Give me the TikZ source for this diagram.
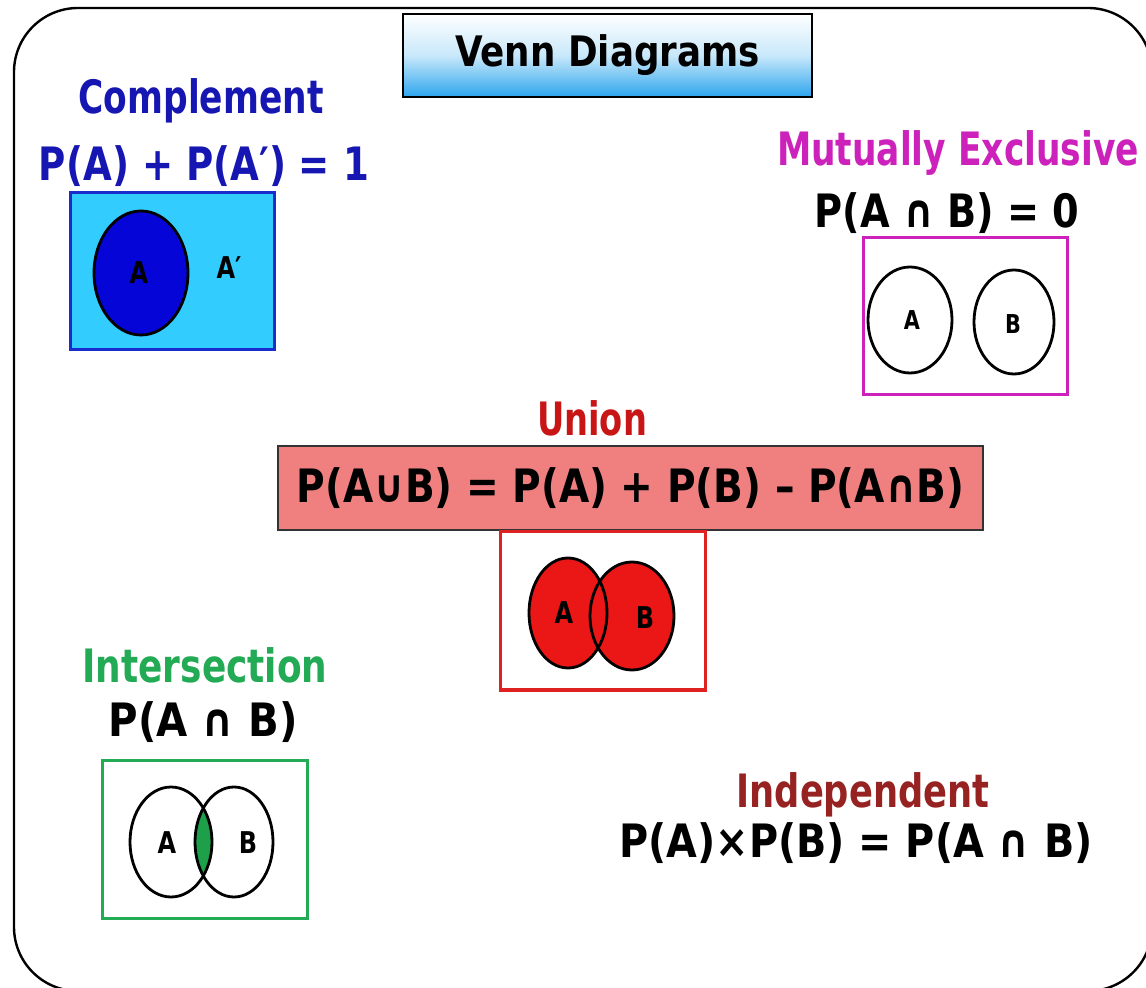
\documentclass[tikz,border=0pt]{standalone}
\usepackage{fontspec}
\setmainfont{DejaVu Sans}
\newfontfamily\condfont[FakeStretch=0.8]{DejaVu Sans}
\definecolor{cblue}{RGB}{22,22,178}
\definecolor{cbox}{RGB}{51,204,255}
\definecolor{cboxb}{RGB}{25,45,205}
\definecolor{cfill}{RGB}{5,5,215}
\definecolor{mag}{RGB}{204,34,187}
\definecolor{ured}{RGB}{200,22,22}
\definecolor{usal}{RGB}{240,128,128}
\definecolor{ufill}{RGB}{235,22,22}
\definecolor{ubord}{RGB}{222,34,34}
\definecolor{igreen}{RGB}{34,170,85}
\definecolor{ifill}{RGB}{30,160,75}
\definecolor{indep}{RGB}{150,34,34}
\definecolor{tblue}{RGB}{45,165,238}
\definecolor{tmid}{RGB}{200,232,250}
\newcommand{\fw}[2]{\resizebox{#1}{\height}{#2}}
\begin{document}
\begin{tikzpicture}[x=0.5pt,y=-0.5pt,
  heading/.style={font=\bfseries\fontsize{23}{26}\selectfont, inner sep=0pt},
  formula/.style={font=\bfseries\fontsize{23}{26}\selectfont, text=black, inner sep=0pt},
  vlabel/.style={font=\condfont\bfseries\fontsize{15}{17}\selectfont, text=black, inner sep=0pt},
  slabel/.style={font=\condfont\bfseries\fontsize{13}{15}\selectfont, text=black, inner sep=0pt},
  vline/.style={draw=black, line width=1.4pt},
  frame/.style={line width=1.5pt}]
\useasboundingbox (0,0) rectangle (1146,988);
\fill[white] (0,0) rectangle (1146,988);
% outer frame
\draw[line width=1.2pt, rounded corners=32pt] (14,8) rectangle (1152,991);
% title
\node[draw=black, line width=1pt, top color=white, bottom color=tblue, middle color=tmid,
      minimum width=204.5pt, minimum height=41.5pt, font=\bfseries\fontsize{21}{24}\selectfont]
  (title) at (607.5,55.5) {\fw{152.5pt}{Venn Diagrams}};
% complement
\node[heading, text=cblue] (comph) at (201,101) {\fw{122.5pt}{Complement}};
\node[heading, text=cblue] (compf) at (204,166) {\fw{165pt}{P(A) + P(A′) = 1}};
\draw[frame, draw=cboxb, fill=cbox] (70,193) rectangle (274,350);
\draw[vline, fill=cfill] (141,273) ellipse [x radius=47, y radius=62];
\node[vlabel] (compA) at (139,273) {A};
\node[vlabel] (compAc) at (229,268) {A′};
% mutually exclusive
\node[heading, text=mag] (meh) at (958,153) {\fw{181pt}{Mutually Exclusive}};
\node[formula] (mef) at (947,213) {\fw{132.5pt}{P(A ∩ B) = 0}};
\draw[frame, draw=mag] (863,238) rectangle (1067,395);
\draw[vline] (910,320) ellipse [x radius=42, y radius=53];
\draw[vline] (1014,322) ellipse [x radius=40, y radius=52];
\node[slabel] (meA) at (912,320) {A};
\node[slabel] (meB) at (1013,324) {B};
% union
\node[heading, text=ured] (unh) at (592,418) {\fw{55pt}{Union}};
\node[draw=black!80, line width=1.2pt, fill=usal, minimum width=352.5pt, minimum height=42pt, formula]
  (unf) at (630.5,488) {\fw{334pt}{P(A∪B) = P(A) + P(B) – P(A∩B)}};
\draw[frame, draw=ubord] (500,532) rectangle (705,690);
\fill[ufill] (568,613) ellipse [x radius=39, y radius=55];
\fill[ufill] (632,616) ellipse [x radius=42, y radius=54];
\draw[vline] (568,613) ellipse [x radius=39, y radius=55];
\draw[vline] (632,616) ellipse [x radius=42, y radius=54];
\node[vlabel] (unA) at (564,613) {A};
\node[vlabel] (unB) at (645,618) {B};
% intersection
\node[heading, text=igreen] (inh) at (205,665) {\fw{122.5pt}{Intersection}};
\node[formula] (inf) at (203,722) {\fw{94.5pt}{P(A ∩ B)}};
\draw[frame, draw=igreen] (102,760) rectangle (307,918);
\begin{scope}
  \clip (171,842) ellipse [x radius=41, y radius=55];
  \fill[ifill] (234,842) ellipse [x radius=39, y radius=55];
\end{scope}
\draw[vline] (171,842) ellipse [x radius=41, y radius=55];
\draw[vline] (234,842) ellipse [x radius=39, y radius=55];
\node[vlabel] (inA) at (167,843) {A};
\node[vlabel] (inB) at (248,843) {B};
% independent
\node[heading, text=indep] (idh) at (863,795) {\fw{126.5pt}{Independent}};
\node[formula] (idf) at (856,843) {\fw{236.5pt}{P(A)×P(B) = P(A ∩ B)}};
\end{tikzpicture}
\end{document}
